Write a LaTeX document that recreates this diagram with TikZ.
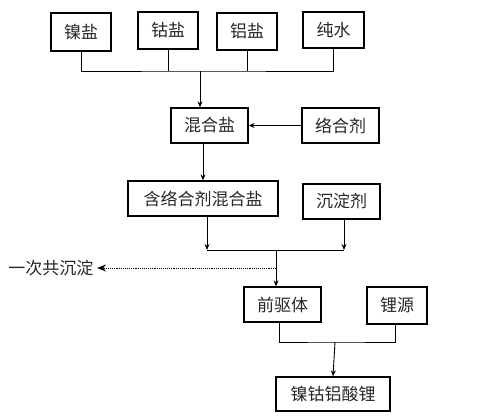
\documentclass[tikz,border=0pt]{standalone}
\usepackage{fontspec}
\setmainfont{Noto Sans CJK SC}
\usetikzlibrary{arrows.meta, positioning, calc}

\tikzset{
    box/.style={draw, line width=1.3pt, inner sep=0pt, font=\fontsize{17}{20}\selectfont, text=black!85},
    link/.style={line width=0.9pt},
}

\begin{document}
\begin{tikzpicture}[x=1pt, y=-1pt, >={Stealth[length=6pt, width=5pt]}]
    \useasboundingbox (0,0) rectangle (480,417);
    % raw materials
    \node[box, minimum width=60pt, minimum height=38pt] (ni) at (81,32) {镍盐};
    \node[box, minimum width=60pt, minimum height=37pt] (co) at (168,30.5) {钴盐};
    \node[box, minimum width=60pt, minimum height=37pt] (al) at (247,31.5) {铝盐};
    \node[box, minimum width=61pt, minimum height=36pt] (water) at (333.5,30) {纯水};
    \node[box, minimum width=77pt, minimum height=35pt] (mix) at (209.5,125.5) {混合盐};
    \node[box, minimum width=77pt, minimum height=35pt] (agent) at (340.5,125.5) {络合剂};
    \node[box, minimum width=150pt, minimum height=35pt] (mixc) at (203,198.5) {含络合剂混合盐};
    \node[box, minimum width=77pt, minimum height=35pt] (precip) at (341.5,201.5) {沉淀剂};
    \node[font=\fontsize{17}{20}\selectfont, text=black!85] (once) at (51,268) {一次共沉淀};
    \node[box, minimum width=77pt, minimum height=35pt] (prec) at (282.5,304.5) {前驱体};
    \node[box, minimum width=60pt, minimum height=37pt] (li) at (397,305.5) {锂源};
    \node[box, minimum width=114pt, minimum height=34pt] (nca) at (333,394) {镍钴铝酸锂};

    \coordinate (bus1) at (200,71);
    \coordinate (bus2) at (276,250);
    \coordinate (side) at (276,268);
    \coordinate (bus3) at (335,342);
    \coordinate (s1) at ($(mixc.south)+(4,0)$);
    \coordinate (s2) at ($(precip.south)+(2.5,0)$);
    \coordinate (s3) at ($(prec.south)+(-3.5,0)$);
    \coordinate (s4) at ($(li.south)+(-2,0)$);

    % first mixing
    \draw[link] (ni.south) |- (bus1) -| (water.south);
    \draw[link] (co.south) -- (co.south |- bus1);
    \draw[link] (al.south) -- (al.south |- bus1);
    \draw[link, ->] (bus1) -- (bus1 |- mix.north);
    \draw[link, ->] (agent) -- (mix);
    \draw[link, ->] (mixc.north |- mix.south) -- (mixc.north);

    % co-precipitation
    \draw[link, ->] (s1) -- (s1 |- bus2);
    \draw[link, ->] (s2) -- (s2 |- bus2);
    \draw[link] (s1 |- bus2) -- (s2 |- bus2);
    \draw[link, ->] (bus2) -- (bus2 |- prec.north);
    \draw[link, densely dotted, -{Stealth[length=9pt, width=7pt]}] (side) -- (once);

    % lithiation
    \draw[link] (s3) |- (bus3) -| (s4);
    \draw[link, ->] (bus3) -- (nca.north);
\end{tikzpicture}
\end{document}
